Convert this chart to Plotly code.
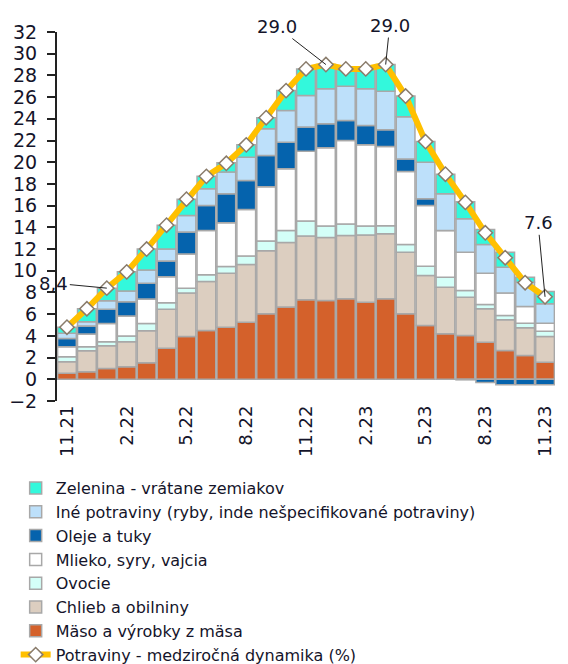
import plotly.graph_objects as go

months = ["11.21", "12.21", "1.22", "2.22", "3.22", "4.22", "5.22", "6.22", "7.22", "8.22",
          "9.22", "10.22", "11.22", "12.22", "1.23", "2.23", "3.23", "4.23", "5.23", "6.23",
          "7.23", "8.23", "9.23", "10.23", "11.23"]

maso = [0.55, 0.70, 1.00, 1.16, 1.53, 2.85, 3.95, 4.50, 4.80, 5.26, 6.04, 6.65, 7.33, 7.26, 7.42,
        7.11, 7.42, 6.04, 4.96, 4.19, 4.04, 3.42, 2.65, 2.19, 1.58]
chlieb = [1.07, 1.93, 2.10, 2.30, 2.95, 3.60, 4.00, 4.51, 4.98, 5.32, 5.81, 5.95, 5.87, 5.81, 5.83,
          6.19, 5.98, 5.67, 4.61, 4.30, 3.53, 3.08, 2.83, 2.56, 2.36]
ovocie = [0.46, 0.37, 0.36, 0.53, 0.67, 0.60, 0.45, 0.62, 0.62, 0.77, 0.90, 1.11, 1.38, 1.05, 1.05,
          0.82, 0.74, 0.71, 0.85, 0.92, 0.61, 0.39, 0.40, 0.42, 0.49]
mlieko = [0.92, 1.17, 1.69, 1.84, 2.24, 2.40, 3.15, 4.08, 4.02, 4.30, 5.00, 5.69, 6.44, 7.22, 7.70,
          7.49, 7.32, 6.73, 5.60, 4.30, 3.53, 2.89, 2.06, 1.54, 0.74]
oleje = [0.77, 0.73, 1.30, 1.32, 1.45, 1.45, 2.03, 2.31, 2.68, 2.67, 2.88, 2.45, 2.22, 2.21, 1.85,
         1.78, 1.54, 1.15, 0.62, 0.00, -0.05, -0.30, -0.50, -0.50, -0.50]
ine = [0.47, 0.40, 0.79, 0.98, 1.22, 1.10, 1.52, 1.54, 1.99, 2.15, 2.46, 2.92, 2.92, 3.22, 3.14,
       3.38, 3.55, 3.90, 3.36, 3.39, 3.08, 2.64, 2.39, 2.24, 1.79]
zelenina = [0.56, 1.20, 1.16, 1.77, 1.94, 2.20, 1.50, 1.14, 0.86, 1.13, 1.01, 1.83, 2.44, 2.23, 1.61,
            1.83, 2.45, 1.90, 1.90, 1.80, 1.56, 1.38, 1.37, 0.45, 1.14]
potraviny = [4.8, 6.5, 8.4, 9.9, 12.0, 14.2, 16.6, 18.7, 19.9, 21.6, 24.1, 26.6, 28.6, 29.0, 28.6,
             28.6, 29.0, 26.1, 21.9, 18.9, 16.3, 13.5, 11.2, 8.9, 7.6]

tick_labels = months[::3]
label_months = ["1.22", "12.22", "3.23", "11.23"]
label_texts = ["8,4", "29.0", "29.0", "7.6"]

FONT = "DejaVu Sans"
TXT = "#14142a"

series = [
    ("Mäso a výrobky z mäsa", maso, "#d4612b"),
    ("Chlieb a obilniny", chlieb, "#dccec0"),
    ("Ovocie", ovocie, "#d4fff8"),
    ("Mlieko, syry, vajcia", mlieko, "#ffffff"),
    ("Oleje a tuky", oleje, "#0563ad"),
    ("Iné potraviny (ryby, inde nešpecifikované potraviny)", ine, "#bde0fa"),
    ("Zelenina - vrátane zemiakov", zelenina, "#33f8dc"),
]

fig = go.Figure()
n = len(series)
for i, (name, vals, col) in enumerate(series):
    fig.add_trace(go.Bar(
        x=months, y=vals, name=name,
        marker=dict(color=col, line=dict(color="#a8a8a8", width=1.5)),
        legendrank=n - i,
    ))

fig.add_trace(go.Scatter(
    x=months, y=potraviny, name="Potraviny - medziročná dynamika (%)",
    mode="lines+markers",
    line=dict(color="#ffc000", width=6),
    marker=dict(symbol="diamond", size=11, color="white", line=dict(color="#8a7c6c", width=1.5)),
    legendrank=n + 1,
))

# annotation offsets (pixels)
offs = {"1.22": (-53, -5), "12.22": (-49, -38), "3.23": (4, -39), "11.23": (-7, -74)}
for m, t in zip(label_months, label_texts):
    idx = months.index(m)
    ax, ay = offs[m]
    fig.add_annotation(x=idx, y=potraviny[idx], xref="x", yref="y", text=t, showarrow=True,
                       arrowhead=0, arrowwidth=1, arrowcolor="#222", ax=ax, ay=ay,
                       font=dict(family=FONT, size=18, color=TXT))

fig.update_layout(
    width=560, height=656,
    margin=dict(l=49, r=13, t=24, b=263, autoexpand=False),
    barmode="relative", bargap=0.06,
    plot_bgcolor="white", paper_bgcolor="white",
    font=dict(family=FONT, size=18, color=TXT),
    showlegend=True,
    legend=dict(x=-0.083, xanchor="left", y=-0.19, yanchor="top",
                font=dict(family=FONT, size=16, color=TXT),
                tracegroupgap=0, itemwidth=30, bgcolor="rgba(0,0,0,0)"),
    xaxis=dict(type="category", range=[-0.5, 24.5], tickmode="array", tickvals=tick_labels,
               ticktext=tick_labels, tickangle=-90, ticks="", showline=False, showgrid=False,
               tickfont=dict(family=FONT, size=18, color=TXT)),
    xaxis2=dict(overlaying="x", anchor="free", position=2 / 34, range=[-0.5, 24.5],
                tickmode="array", tickvals=[-0.5 + 3 * k for k in range(9)], ticks="outside",
                ticklen=7, tickwidth=2, tickcolor="black", showticklabels=False,
                showline=True, linecolor="black", linewidth=2, showgrid=False, zeroline=False),
    yaxis=dict(range=[-2, 32], dtick=2, tick0=0, ticks="outside", ticklen=8, tickwidth=2,
               tickcolor="#222", showline=True, linecolor="#222", linewidth=2, showgrid=False,
               zeroline=False, ticklabelstandoff=6,
               tickfont=dict(family=FONT, size=19, color=TXT)),
)

fig.write_html("out.html")
